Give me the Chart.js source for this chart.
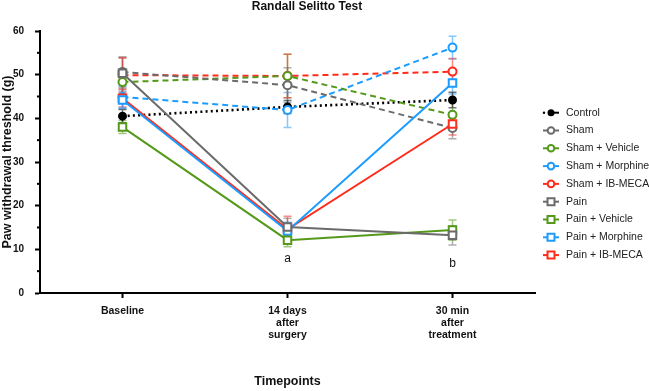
<!DOCTYPE html>
<html>
<head>
<meta charset="utf-8">
<script src="https://cdn.jsdelivr.net/npm/chart.js@4.4.1/dist/chart.umd.min.js"></script>
<style>
  html, body { margin: 0; padding: 0; background: #fff; }
  #wrap { width: 649px; height: 391px; }
</style>
</head>
<body>
<div id="wrap"><canvas id="chart"></canvas></div>
<script>
// timepoints
const timepoints = ['Baseline', ['14 days', 'after', 'surgery'], ['30 min', 'after', 'treatment']];
const yTicks = [0, 10, 20, 30, 40, 50, 60];

// group names
const groups = ['Control', 'Sham', 'Sham + Vehicle', 'Sham + Morphine', 'Sham + IB-MECA',
  'Pain', 'Pain + Vehicle', 'Pain + Morphine', 'Pain + IB-MECA'];

// means (g)
const control       = [40.5, 42.6, 44.2];
const sham          = [50.6, 47.6, 37.8];
const shamVehicle   = [48.3, 49.7, 40.8];
const shamMorphine  = [44.9, 41.9, 56.2];
const shamIbmeca    = [49.9, 49.7, 50.7];
const pain          = [50.3, 15.1, 13.2];
const painVehicle   = [38.0, 12.1, 14.4];
const painMorphine  = [44.2, 14.2, 48.1];
const painIbmeca    = [44.6, 14.6, 38.7];

// SEM (g)
const controlErr      = [1.5, 1.5, 1.8];
const shamErr         = [3.5, 4.0, 2.5];
const shamVehicleErr  = [3.0, 5.0, 3.0];
const shamMorphineErr = [2.5, 4.0, 2.6];
const shamIbmecaErr   = [4.0, 5.0, 3.0];
const painErr         = [3.5, 2.0, 2.2];
const painVehicleErr  = [1.5, 1.5, 2.3];
const painMorphineErr = [2.0, 2.0, 2.5];
const painIbmecaErr   = [2.0, 3.0, 2.5];

// significance letters
const letters = ['', 'a', 'b'];
const letterY = [0, 7.8, 6.6];

const GRAY = '#6b6b6b', GREEN = '#55991a', BLUE = '#1c9cff', RED = '#ff2c1c';

function ds(label, data, err, color, kind) {
  const dashed = kind === 'dash';
  const dotted = kind === 'dot';
  return {
    label, data, err,
    borderColor: dotted ? '#000' : color,
    backgroundColor: dotted ? '#000' : '#fff',
    pointBorderColor: dotted ? '#000' : color,
    pointBackgroundColor: dotted ? '#000' : '#fff',
    borderWidth: dotted ? 2.6 : 2,
    borderDash: dashed ? [6, 4] : (dotted ? [2, 3.2] : []),
    pointStyle: kind === 'solid' ? 'rect' : 'circle',
    pointRadius: dotted ? 3.5 : (kind === 'solid' ? 5.3 : 4),
    pointBorderWidth: 2,
    tension: 0,
    fill: false,
    _kind: kind,
    _color: dotted ? '#000' : color
  };
}

const datasets = [
  ds(groups[5], pain, painErr, GRAY, 'solid'),
  ds(groups[6], painVehicle, painVehicleErr, GREEN, 'solid'),
  ds(groups[7], painMorphine, painMorphineErr, BLUE, 'solid'),
  ds(groups[8], painIbmeca, painIbmecaErr, RED, 'solid'),
  ds(groups[1], sham, shamErr, GRAY, 'dash'),
  ds(groups[2], shamVehicle, shamVehicleErr, GREEN, 'dash'),
  ds(groups[3], shamMorphine, shamMorphineErr, BLUE, 'dash'),
  ds(groups[4], shamIbmeca, shamIbmecaErr, RED, 'dash'),
  ds(groups[0], control, controlErr, '#000', 'dot')
];

function hexA(hex, a) {
  const n = parseInt(hex.slice(1), 16);
  return `rgba(${n >> 16},${(n >> 8) & 255},${n & 255},${a})`;
}

const errorBars = {
  id: 'errorBars',
  beforeDatasetsDraw(chart) {
    const ctx = chart.ctx, y = chart.scales.y;
    ctx.save();
    chart.data.datasets.forEach((d, di) => {
      const meta = chart.getDatasetMeta(di);
      ctx.strokeStyle = hexA(d._color, 0.55);
      ctx.lineWidth = 1.5;
      meta.data.forEach((pt, i) => {
        const t = y.getPixelForValue(d.data[i] + d.err[i]);
        const b = y.getPixelForValue(d.data[i] - d.err[i]);
        ctx.beginPath();
        ctx.moveTo(pt.x, t); ctx.lineTo(pt.x, b);
        ctx.moveTo(pt.x - 4, t); ctx.lineTo(pt.x + 4, t);
        ctx.moveTo(pt.x - 4, b); ctx.lineTo(pt.x + 4, b);
        ctx.stroke();
      });
    });
    ctx.restore();
  }
};

const extras = {
  id: 'extras',
  afterDraw(chart) {
    const ctx = chart.ctx, xs = chart.scales.x, ys = chart.scales.y;
    ctx.save();
    // minor y ticks
    ctx.strokeStyle = '#000'; ctx.lineWidth = 2;
    for (let v = 5; v < 60; v += 10) {
      const py = ys.getPixelForValue(v);
      ctx.beginPath(); ctx.moveTo(xs.left - 3, py); ctx.lineTo(xs.left, py); ctx.stroke();
    }
    // title
    ctx.fillStyle = '#111';
    ctx.font = 'bold 12px "Liberation Sans", Arial, sans-serif';
    ctx.textAlign = 'center'; ctx.textBaseline = 'middle';
    ctx.fillText('Randall Selitto Test', 307, 7);
    // letters
    ctx.font = '12px "Liberation Sans", Arial, sans-serif';
    letters.forEach((l, i) => {
      if (l) ctx.fillText(l, xs.getPixelForValue(i), ys.getPixelForValue(letterY[i]));
    });
    // legend
    const order = [8, 4, 5, 6, 7, 0, 1, 2, 3];
    ctx.font = '10.5px "Liberation Sans", Arial, sans-serif';
    ctx.textAlign = 'left';
    order.forEach((di, k) => {
      const d = chart.data.datasets[di];
      const ly = 112.7 + k * 17.8, cx = 551;
      ctx.strokeStyle = d._color; ctx.fillStyle = d._color;
      ctx.lineWidth = 2;
      if (d._kind === 'dot') {
        ctx.beginPath(); ctx.arc(544, ly, 1.2, 0, Math.PI * 2); ctx.fill();
        ctx.beginPath(); ctx.arc(cx, ly, 3.5, 0, Math.PI * 2); ctx.fill();
        ctx.beginPath(); ctx.moveTo(cx, ly); ctx.lineTo(559, ly); ctx.stroke();
      } else {
        ctx.beginPath(); ctx.moveTo(543, ly); ctx.lineTo(559, ly); ctx.stroke();
        ctx.fillStyle = '#fff';
        ctx.beginPath();
        if (d._kind === 'solid') ctx.rect(cx - 3.5, ly - 3.5, 7, 7);
        else ctx.arc(cx, ly, 3.3, 0, Math.PI * 2);
        ctx.fill(); ctx.stroke();
      }
      ctx.fillStyle = '#222';
      ctx.fillText(d.label, 566, ly);
    });
    ctx.restore();
  }
};

new Chart(document.getElementById('chart'), {
  type: 'line',
  data: { labels: timepoints, datasets },
  options: {
    responsive: true,
    maintainAspectRatio: false,
    animation: false,
    layout: { padding: { top: 31, right: 114, left: 0, bottom: 0 } },
    plugins: { legend: { display: false }, tooltip: { enabled: false } },
    scales: {
      x: {
        offset: true,
        afterFit: s => { s.height = 98; },
        grid: { offset: false, drawOnChartArea: false, tickLength: 5, tickWidth: 2, tickColor: '#000' },
        border: { display: true, color: '#000', width: 2 },
        ticks: { color: '#111', padding: 7, font: { family: '"Liberation Sans", Arial', size: 10.5, weight: 'bold', lineHeight: 1.15 } },
        title: { display: true, text: 'Timepoints', color: '#111', padding: { top: 0, bottom: 2 },
          font: { family: '"Liberation Sans", Arial', size: 12.5, weight: 'bold' } }
      },
      y: {
        min: 0, max: 60,
        afterFit: s => { s.width = 40; },
        afterBuildTicks: s => { s.ticks = yTicks.map(v => ({ value: v })); },
        grid: { drawOnChartArea: false, tickLength: 5, tickWidth: 2, tickColor: '#000' },
        border: { display: true, color: '#000', width: 2 },
        ticks: { color: '#111', padding: 11, font: { family: '"Liberation Sans", Arial', size: 10, weight: 'bold' } },
        title: { display: true, text: 'Paw withdrawal threshold (g)', color: '#111', padding: 0,
          font: { family: '"Liberation Sans", Arial', size: 12.5, weight: 'bold' } }
      }
    }
  },
  plugins: [errorBars, extras]
});
</script>
</body>
</html>
